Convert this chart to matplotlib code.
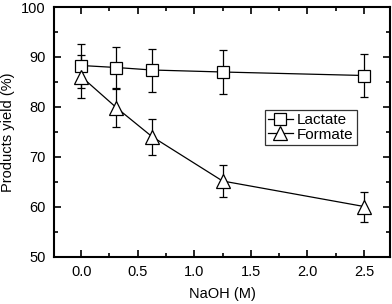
import matplotlib
matplotlib.use("Agg")
import matplotlib.pyplot as plt
from matplotlib.ticker import MultipleLocator
from matplotlib.lines import Line2D

plt.rcParams['font.family'] = ['Liberation Sans', 'DejaVu Sans']

naoh = [0.0, 0.31, 0.625, 1.25, 2.5]
lactate = [88.3, 87.9, 87.4, 87.0, 86.3]
lactate_err = [4.4, 4.2, 4.3, 4.35, 4.35]
formate = [86.1, 79.9, 74.1, 65.2, 60.1]
formate_err = [4.3, 3.9, 3.6, 3.3, 3.0]

fs = 10.5

fig = plt.figure(figsize=(3.92, 3.04), dpi=100)
ax = fig.add_axes([54/392, 1-257/304, (390-54)/392, (257-7)/304])

ax.errorbar(naoh, lactate, yerr=lactate_err, color='black', lw=0.9,
            marker='s', ms=8, mfc='white', mec='black', mew=0.9,
            capsize=3, elinewidth=0.9, capthick=0.9)
ax.errorbar(naoh, formate, yerr=formate_err, color='black', lw=0.9,
            marker='^', ms=10, mfc='white', mec='black', mew=0.9,
            capsize=3, elinewidth=0.9, capthick=0.9)

ax.set_xlim(-0.24, 2.73)
ax.set_ylim(50, 100)
ax.xaxis.set_major_locator(MultipleLocator(0.5))
ax.xaxis.set_minor_locator(MultipleLocator(0.25))
ax.yaxis.set_major_locator(MultipleLocator(10))
ax.yaxis.set_minor_locator(MultipleLocator(5))
ax.tick_params(which='both', direction='in', top=True, right=True, labelsize=fs, width=1.2, pad=6)
ax.tick_params(which='major', length=5)
ax.tick_params(which='minor', length=3)
for s in ax.spines.values():
    s.set_linewidth(1.5)

ax.set_xlabel('NaOH (M)', fontsize=fs, va='center')
ax.set_ylabel('Products yield (%)', fontsize=fs, va='center')
ax.xaxis.set_label_coords(0.5, -(294-257)/250)
ax.yaxis.set_label_coords(-(54-8)/336, 0.5)

handles = [
    Line2D([], [], color='black', lw=0.9, marker='s', ms=8, mfc='white', mec='black', mew=0.9),
    Line2D([], [], color='black', lw=0.9, marker='^', ms=10, mfc='white', mec='black', mew=0.9),
]
leg = ax.legend(handles, ['Lactate', 'Formate'], loc='upper left',
                bbox_to_anchor=((265-54)/336, 1-(110-7)/250),
                frameon=True, fancybox=False, edgecolor='black', fontsize=fs + 0.5,
                handlelength=1.6, handletextpad=0.3, borderpad=0.2,
                labelspacing=0.05, borderaxespad=0)
leg.get_frame().set_linewidth(0.9)

fig.savefig('out.png', dpi=100)
